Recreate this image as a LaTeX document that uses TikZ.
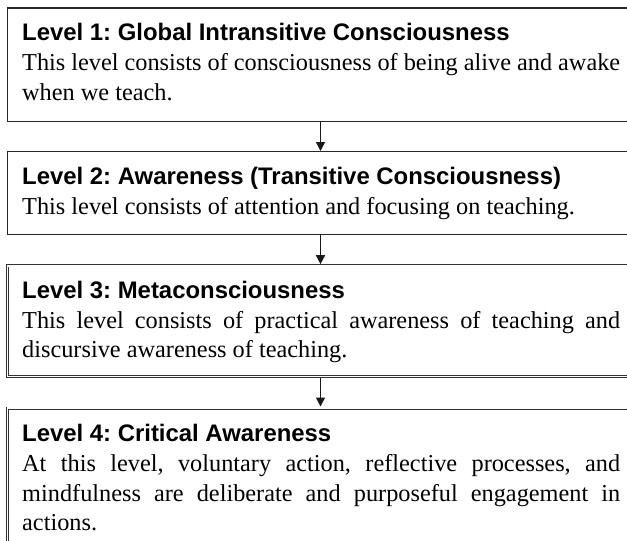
\documentclass[tikz,border=0pt]{standalone}
\usepackage{fontspec}
\setmainfont{Liberation Serif}
\newfontfamily\headfont{Liberation Sans}
\usetikzlibrary{arrows.meta,calc}
\tikzset{
  sbox/.style={draw=black!85, line width=1.4pt, rectangle, minimum width=660pt, anchor=north west, inner sep=0pt},
  dbox/.style={draw=black!80, line width=0.8pt, double=white, double distance=1.6pt, rectangle, minimum width=660pt, anchor=north west, inner sep=0pt, outer sep=1.6pt},
  txt/.style={anchor=base west, inner sep=0pt, text width=598pt, align=justify, font=\frenchspacing\fontsize{24.3}{29.7}\selectfont},
  arr/.style={-{Triangle[length=9pt,width=9pt]}, line width=1.4pt, draw=black!90}
}
\newcommand{\hd}[1]{{\headfont\bfseries\fontsize{23.9}{29.7}\selectfont #1}}
\begin{document}
\begin{tikzpicture}[x=1pt,y=1pt]
\useasboundingbox (0,0) rectangle (627,-541);
\clip (0,0) rectangle (627,-541);
\coordinate (ax) at (320.5,0);
\node[sbox, minimum height=113.4pt] (b1) at (6.5,-7.3) {};
\node[sbox, minimum height=83pt] (b2) at (6.5,-151) {};
\node[dbox, minimum height=110.8pt] (b3) at (6,-264.2) {};
\node[dbox, minimum height=200pt] (b4) at (6,-406.5) {};
\node[txt] (t1) at (22,-40.7) {\hd{Level 1: Global Intransitive Consciousness}\\
This level consists of consciousness of being alive and awake\\
when we teach.};
\node[txt] (t2) at (22,-184.3) {\hd{Level 2: Awareness (Transitive Consciousness)}\\
This level consists of attention and focusing on teaching.};
\node[txt] (t3) at (22,-298.3) {\hd{Level 3: Metaconsciousness}\\
This level consists of practical awareness of teaching and\linebreak
discursive awareness of teaching.};
\node[txt] (t4) at (22,-441.7) {\hd{Level 4: Critical Awareness}\\
At this level, voluntary action, reflective processes, and\linebreak
mindfulness are deliberate and purposeful engagement in\linebreak
actions.};
\draw[arr] (b1.south -| ax) -- (b2.north -| ax);
\draw[arr] (b2.south -| ax) -- (b3.north -| ax);
\draw[arr] (b3.south -| ax) -- (b4.north -| ax);
\end{tikzpicture}
\end{document}
